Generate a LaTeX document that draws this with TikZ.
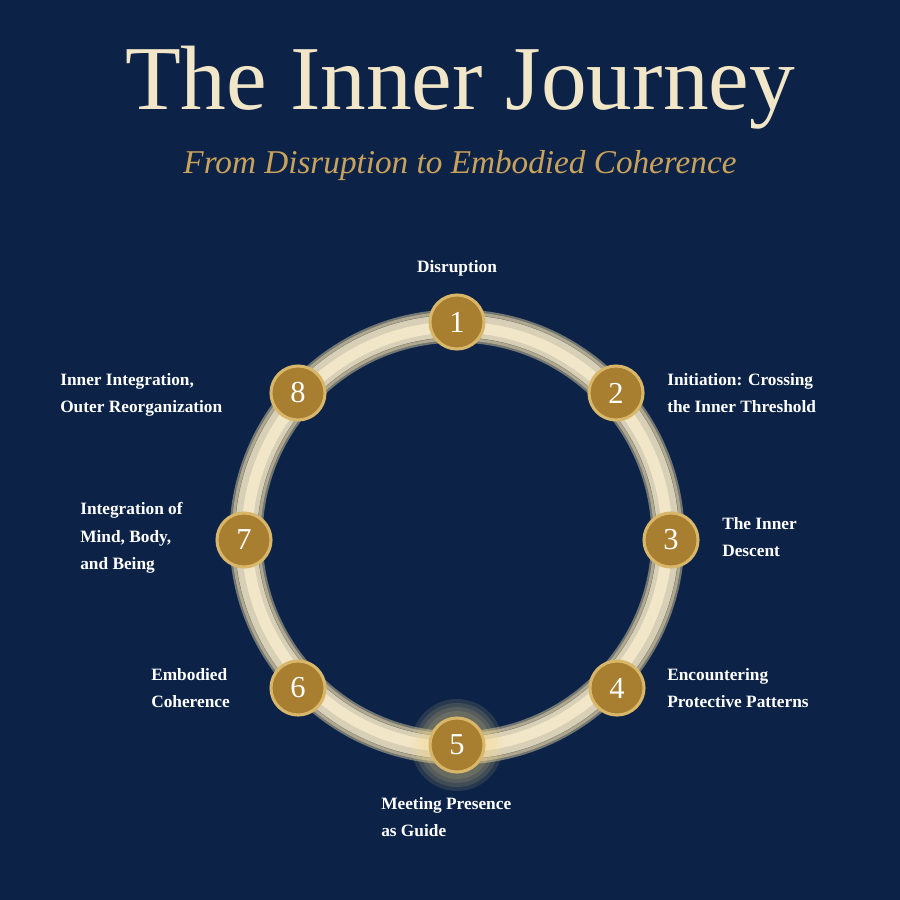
\documentclass[tikz,border=0pt]{standalone}
\usepackage{fontspec}
\setmainfont{Liberation Serif}
\begin{document}
\definecolor{bg}{HTML}{0C2347}
\definecolor{cream}{HTML}{F2E6C8}
\definecolor{cream2}{HTML}{D9C9A0}
\definecolor{gold}{HTML}{A87F30}
\definecolor{goldl}{HTML}{D8B66A}
\definecolor{sub}{HTML}{C9A25C}
\definecolor{glow}{HTML}{F5D98A}
\begin{tikzpicture}[x=0.01in,y=-0.01in,
  num/.style={circle,draw=goldl,line width=2.2pt,fill=gold,minimum size=0.54in,inner sep=0pt,text=white,font=\fontsize{22}{22}\selectfont},
  lab/.style={text=white,font=\bfseries\fontsize{12.5}{20}\selectfont,align=left,anchor=north west,inner sep=0pt}]
\fill[bg] (0,0) rectangle (900,900);
\useasboundingbox (0,0) rectangle (900,900);
\node[text=cream,font=\fontsize{66}{66}\selectfont] (title) at (460,88) {The Inner Journey};
\node[text=sub,font=\itshape\fontsize{24}{24}\selectfont] (subt) at (460,166) {From Disruption to Embodied Coherence};
\coordinate (c) at (457,537);
% brush ring
\draw[cream2,opacity=0.5,line width=24pt] (c) circle[radius=211];
\draw[cream,opacity=0.8,line width=16pt] (c) circle[radius=211];
\draw[cream,line width=8pt] (c) circle[radius=210];
\draw[cream2,opacity=0.6,line width=2pt] (c) circle[radius=198];
\draw[cream2,opacity=0.6,line width=2pt] (c) circle[radius=224];
\foreach \i in {1,...,4}
  \fill[glow,opacity=0.12] (457,745) circle[radius=30+\i*4];
\node[num] (n1) at (457,322) {1};
\node[num] (n2) at (616,393) {2};
\node[num] (n3) at (671,540) {3};
\node[num] (n4) at (617,688) {4};
\node[num] (n5) at (457,745) {5};
\node[num] (n6) at (298,688) {6};
\node[num] (n7) at (244,540) {7};
\node[num] (n8) at (298,393) {8};
\node[text=white,font=\bfseries\fontsize{12.5}{20}\selectfont] (l1) at (457,268) {Disruption};
\node[lab] (l2) at (667,373) {Initiation: Crossing\\the Inner Threshold};
\node[lab] (l3) at (722,517) {The Inner\\Descent};
\node[lab] (l4) at (667,668) {Encountering\\Protective Patterns};
\node[lab] (l5) at (381,797) {Meeting Presence\\as Guide};
\node[lab] (l6) at (151,668) {Embodied\\Coherence};
\node[lab] (l7) at (80,502) {Integration of\\Mind, Body,\\and Being};
\node[lab] (l8) at (60,373) {Inner Integration,\\Outer Reorganization};
\end{tikzpicture}
\end{document}
